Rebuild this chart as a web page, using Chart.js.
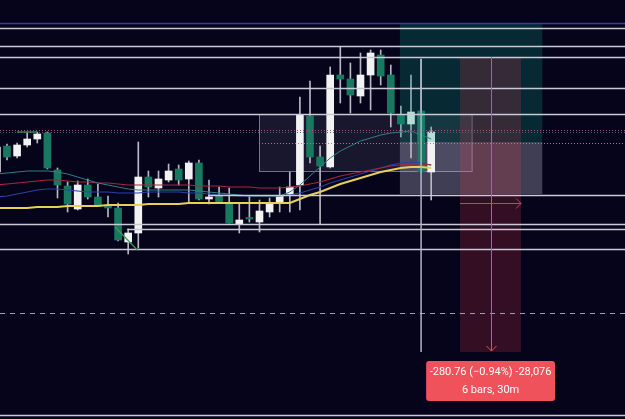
<!DOCTYPE html>
<html>
<head>
<meta charset="utf-8">
<script src="https://cdn.jsdelivr.net/npm/chart.js@4"></script>
<style>
  html, body { margin: 0; padding: 0; background: #06041a; }
  #wrap { width: 625px; height: 419px; position: relative; }
</style>
</head>
<body>
<div id="wrap"><canvas id="myChart"></canvas></div>
<script>
// bar index (30m candles)
const bars = [-1,0,1,2,3,4,5,6,7,8,9,10,11,12,13,14,15,16,17,18,19,20,21,22,23,24,25,26,27,28,29,30,31,32,33,34,35,36,37,38,39,40,41,42];

const open  = [29748,29774,29764,29775,29781,29787,29750,29734,29711,29735,29723,29714,29712,29678,29687,29743,29732,29740,29751,29741,29757,29721,29724,29717,29696,29702,29698,29708,29717,29726,29735,29804,29763,29753,29845,29841,29824,29845,29865,29845,29805,29796,29809,29748];
const high  = [29777,29776,29777,29788,29788,29788,29752,29738,29739,29741,29736,29724,29717,29691,29778,29749,29749,29756,29755,29759,29760,29740,29733,29732,29716,29724,29720,29722,29733,29748,29823,29839,29774,29853,29873,29857,29867,29870,29870,29855,29814,29845,29861,29793];
const low   = [29745,29760,29762,29773,29777,29751,29722,29708,29710,29721,29714,29703,29679,29666,29672,29723,29723,29738,29735,29717,29720,29716,29717,29697,29687,29698,29688,29703,29708,29708,29710,29757,29696,29752,29817,29807,29817,29810,29835,29793,29783,29762,29748,29720];
const close = [29773,29763,29775,29781,29786,29752,29735,29716,29735,29723,29715,29712,29680,29687,29743,29733,29741,29749,29740,29757,29721,29723,29718,29697,29700,29701,29709,29716,29724,29733,29805,29763,29754,29845,29841,29825,29845,29867,29844,29807,29796,29808,29748,29788];

// moving averages
const maYellow = [29712,29712,29712,29712,29713,29713,29713,29714,29714,29714,29714,29715,29715,29715,29715,29716,29716,29716,29716,29717,29717,29717,29717,29717,29717,29717,29717,29717,29717,29717,29721,29725,29728,29732,29736,29739,29742,29745,29748,29750,29752,29753,29753,29752];
const maRed    = [29735,29736,29737,29738,29739,29740,29740,29739,29738,29738,29737,29737,29736,29735,29735,29735,29735,29735,29735,29735,29734,29734,29734,29733,29733,29733,29732,29732,29732,29733,29734,29736,29738,29741,29744,29746,29748,29750,29752,29754,29755,29756,29756,29755];
const maBlue   = [29723,29724,29726,29728,29730,29731,29731,29730,29729,29728,29728,29728,29727,29727,29727,29728,29728,29728,29728,29727,29727,29726,29725,29725,29724,29724,29724,29724,29724,29725,29727,29730,29733,29737,29740,29743,29746,29749,29752,29755,29757,29758,29757,29755];
const maTeal   = [29746,29747,29748,29749,29749,29749,29748,29746,29743,29740,29737,29735,29733,29731,29730,29730,29730,29730,29730,29730,29729,29728,29727,29726,29725,29724,29724,29724,29724,29728,29735,29744,29753,29762,29769,29774,29779,29782,29785,29787,29788,29789,29785,29781];

// horizontal levels
const topLevel = 29897;
const fullLevels = [29892, 29874, 29863, 29832, 29806, 29696, 29671, 29505];
const partLevels = [29725, 29691];
const partStart = [19.9, 11.9];
const dotLevels = [29790.5, 29788.5];
const boxDotLevel = 29777;
const dashLevel = 29607;

// rectangle zone
const zoneX = [24.95, 46.0];
const zoneY = [29749, 29806];

// position tool
const posX = [38.9, 53.0];
const posTop = 29897, posMid = 29778, posBottom = 29726;

// price range measurement
const rangeX = [44.85, 50.9];
const rangeY = [29568, 29863];
const rangeArrowY = 29717;
const cursorX = 41;
const cursorY = [29568, 29861];
const labelX = [41.5, 54.26];
const labelY = [29519, 29559];
const labelText = ['-280.76 (\u22120.94%) -28,076', '6 bars, 30m'];

// small trend drawings
const greenFlat = { x: [0.99, 2.97], y: [29788, 29788] };
const greenDiag = { x: [10.7, 12.9], y: [29693, 29670] };

const up = close.map((c, i) => c >= open[i]);
const bodyColor = up.map(u => u ? '#f2f2f2' : '#17795f');

const drawings = {
  id: 'drawings',
  beforeDatasetsDraw(chart) {
    const c = chart.ctx, X = chart.scales.x, Y = chart.scales.y;
    const px = v => X.getPixelForValue(v), py = v => Y.getPixelForValue(v);
    c.save();
    // rectangle zone
    c.fillStyle = 'rgba(200,200,225,0.10)';
    c.fillRect(px(zoneX[0]), py(zoneY[1]), px(zoneX[1]) - px(zoneX[0]), py(zoneY[0]) - py(zoneY[1]));
    c.strokeStyle = 'rgba(200,200,225,0.55)';
    c.lineWidth = 1;
    c.strokeRect(px(zoneX[0]) + 0.5, py(zoneY[1]) + 0.5, px(zoneX[1]) - px(zoneX[0]), py(zoneY[0]) - py(zoneY[1]));
    // lower part of position tool
    c.fillStyle = 'rgba(200,200,220,0.30)';
    c.fillRect(px(posX[0]), py(posMid), px(posX[1]) - px(posX[0]), py(posBottom) - py(posMid));
    c.restore();
  },
  afterDatasetsDraw(chart) {
    const c = chart.ctx, X = chart.scales.x, Y = chart.scales.y;
    const px = v => X.getPixelForValue(v), py = v => Y.getPixelForValue(v);
    const W = chart.width;
    const hline = (y, x0, x1, color, w, dash) => {
      c.beginPath();
      c.setLineDash(dash || []);
      c.strokeStyle = color;
      c.lineWidth = w;
      c.moveTo(x0, Math.round(py(y)) + 0.5);
      c.lineTo(x1, Math.round(py(y)) + 0.5);
      c.stroke();
    };
    c.save();
    // upper part of position tool
    c.fillStyle = 'rgba(8,153,129,0.25)';
    c.fillRect(px(posX[0]), py(posTop), px(posX[1]) - px(posX[0]), py(posMid) - py(posTop));
    // price range
    c.fillStyle = 'rgba(242,54,69,0.2)';
    c.fillRect(px(rangeX[0]), py(rangeY[1]), px(rangeX[1]) - px(rangeX[0]), py(rangeY[0]) - py(rangeY[1]));

    hline(topLevel, 0, W, '#3a3a9e', 1.5);
    fullLevels.forEach(l => hline(l, 0, W, '#c9c9d8', 1.5));
    partLevels.forEach((l, i) => hline(l, px(partStart[i]), W, '#c9c9d8', 1.5));
    hline(dotLevels[0], 0, W, '#a85468', 1, [1, 2]);
    hline(dotLevels[1], 0, W, '#5a5a86', 1, [1, 2]);
    hline(boxDotLevel, px(zoneX[0]), W, '#8a8aa6', 1, [1, 2]);
    hline(dashLevel, 0, W, '#9d9db4', 1, [5, 5]);
    c.setLineDash([]);

    // cursor line
    c.strokeStyle = '#b4b4c6';
    c.lineWidth = 1.5;
    c.beginPath();
    c.moveTo(px(cursorX), py(cursorY[1]));
    c.lineTo(px(cursorX), py(cursorY[0]));
    c.stroke();

    // range arrows
    const cx = Math.round(px((rangeX[0] + rangeX[1]) / 2)) + 0.5;
    c.strokeStyle = '#e0506a';
    c.lineWidth = 1;
    c.beginPath();
    c.moveTo(cx, py(rangeY[1]));
    c.lineTo(cx, py(rangeY[0]) - 1);
    c.moveTo(cx - 5, py(rangeY[0]) - 6);
    c.lineTo(cx, py(rangeY[0]) - 1);
    c.lineTo(cx + 5, py(rangeY[0]) - 6);
    c.stroke();
    const ay = Math.round(py(rangeArrowY)) + 0.5;
    c.strokeStyle = '#c24462';
    c.beginPath();
    c.moveTo(px(rangeX[0]), ay);
    c.lineTo(px(rangeX[1]), ay);
    c.moveTo(px(rangeX[1]) - 5, ay - 5);
    c.lineTo(px(rangeX[1]), ay);
    c.lineTo(px(rangeX[1]) - 5, ay + 5);
    c.stroke();

    // small green drawings
    c.strokeStyle = '#3f9a5c';
    c.lineWidth = 1.2;
    [greenFlat, greenDiag].forEach(d => {
      c.beginPath();
      c.moveTo(px(d.x[0]), py(d.y[0]));
      c.lineTo(px(d.x[1]), py(d.y[1]));
      c.stroke();
    });

    // label
    const lx = px(labelX[0]), lw = px(labelX[1]) - lx;
    const ly = py(labelY[1]), lh = py(labelY[0]) - ly;
    c.fillStyle = '#f0525c';
    c.beginPath();
    c.roundRect(lx, ly, lw, lh, 3);
    c.fill();
    c.fillStyle = '#ffffff';
    c.font = '11px Roboto, "Liberation Sans", sans-serif';
    c.textAlign = 'center';
    c.textBaseline = 'middle';
    c.fillText(labelText[0], lx + lw / 2, ly + 11.5);
    c.fillText(labelText[1], lx + lw / 2, ly + 29);
    c.restore();
  }
};

const pts = arr => arr.map((v, i) => ({ x: bars[i], y: v }));
const maSet = (arr, color, w) => ({
  type: 'line', data: pts(arr), borderColor: color, borderWidth: w,
  pointRadius: 0, tension: 0, order: 0
});

new Chart(document.getElementById('myChart'), {
  type: 'bar',
  data: {
    datasets: [
      maSet(maTeal, '#2f7f86', 1),
      maSet(maRed, '#a3283c', 1.2),
      maSet(maBlue, '#2e3fa6', 1.2),
      maSet(maYellow, '#e8cf55', 2),
      {
        data: bars.map((b, i) => ({ x: b, y: [Math.min(open[i], close[i]), Math.max(open[i], close[i])] })),
        backgroundColor: bodyColor,
        barThickness: 7, minBarLength: 1.5, grouped: false, order: 1
      },
      {
        data: bars.map((b, i) => ({ x: b, y: [low[i], high[i]] })),
        backgroundColor: '#b8b8c4',
        barThickness: 1, grouped: false, order: 2
      }
    ]
  },
  options: {
    responsive: true,
    maintainAspectRatio: false,
    animation: false,
    layout: { padding: 0 },
    plugins: { legend: { display: false }, tooltip: { enabled: false } },
    scales: {
      x: { type: 'linear', min: -0.693, max: 61.19, offset: false, display: false },
      y: { min: 29501, max: 29920, display: false }
    }
  },
  plugins: [drawings]
});
</script>
</body>
</html>
